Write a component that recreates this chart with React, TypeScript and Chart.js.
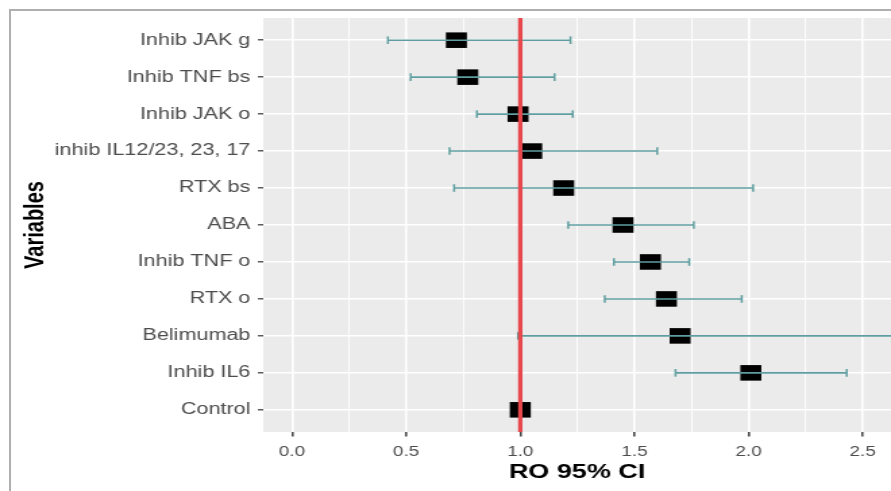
import React, { useEffect, useRef } from "react";
import { Chart, registerables } from "chart.js";

Chart.register(...registerables);

const variables = [
  "Inhib JAK g",
  "Inhib TNF bs",
  "Inhib JAK o",
  "inhib IL12/23, 23, 17",
  "RTX bs",
  "ABA",
  "Inhib TNF o",
  "RTX o",
  "Belimumab",
  "Inhib IL6",
  "Control",
];
const oddsRatio = [0.72, 0.77, 0.99, 1.05, 1.19, 1.45, 1.57, 1.64, 1.70, 2.01, 1.0];
const ciLower = [0.42, 0.52, 0.81, 0.69, 0.71, 1.21, 1.41, 1.37, 0.99, 1.68, 1.0];
const ciUpper = [1.22, 1.15, 1.23, 1.6, 2.02, 1.76, 1.74, 1.97, 2.9, 2.43, 1.0];
const referenceValue = 1;
const xTickValues = [0, 0.25, 0.5, 0.75, 1, 1.25, 1.5, 1.75, 2, 2.25, 2.5];

const STRETCH = 1.35;
const W = 660;
const H = 491;
const FONT = "'Liberation Sans', Arial, Helvetica, sans-serif";
const TEAL = "#5F9EA0";

const panelBg = {
  id: "panelBg",
  beforeDraw(chart: any) {
    const { ctx, chartArea } = chart;
    ctx.save();
    ctx.fillStyle = "#ffffff";
    ctx.fillRect(0, 0, chart.width, chart.height);
    ctx.fillStyle = "#EBEBEB";
    ctx.fillRect(chartArea.left, chartArea.top, chartArea.right - chartArea.left, chartArea.bottom - chartArea.top);
    ctx.restore();
  },
};

const isMajor = (v: number) => Math.abs(v * 2 - Math.round(v * 2)) < 1e-6;

export default function App() {
  const ref = useRef<HTMLCanvasElement | null>(null);

  useEffect(() => {
    if (!ref.current) return;
    const errorSets = variables.map((_, i) => ({
      type: "scatter" as const,
      data: [
        { x: ciLower[i], y: i },
        { x: ciUpper[i], y: i },
      ],
      showLine: true,
      borderColor: TEAL,
      borderWidth: 1.6,
      pointStyle: "line",
      pointRotation: 90,
      pointRadius: 3.8,
      pointBorderColor: TEAL,
      pointBorderWidth: 1.5,
      pointBackgroundColor: TEAL,
      order: 2,
    }));
    const chart = new Chart(ref.current, {
      type: "scatter",
      data: {
        datasets: [
          {
            data: variables.map((_, i) => ({ x: oddsRatio[i], y: i })),
            pointStyle: "rect",
            pointRadius: 11,
            backgroundColor: "#000000",
            borderWidth: 0,
            order: 3,
          } as any,
          ...errorSets,
          {
            data: [
              { x: referenceValue, y: -0.6 },
              { x: referenceValue, y: variables.length - 0.4 },
            ],
            showLine: true,
            borderColor: "#E8474B",
            borderWidth: 3.2,
            pointRadius: 0,
            order: 1,
          },
        ],
      },
      options: {
        responsive: false,
        animation: false,
        devicePixelRatio: 1,
        layout: { autoPadding: false, padding: { top: 18, left: 0, right: 0, bottom: 0 } },
        plugins: { legend: { display: false }, tooltip: { enabled: false } },
        scales: {
          x: {
            type: "linear",
            min: -0.126,
            max: 2.624,
            afterBuildTicks: (axis: any) => {
              axis.ticks = xTickValues.map((v) => ({ value: v }));
            },
            afterFit: (scale: any) => {
              scale.height = 59;
              scale.paddingLeft = 0;
              scale.paddingRight = 0;
            },
            ticks: {
              autoSkip: false,
              maxRotation: 0,
              padding: 7,
              color: "#4D4D4D",
              font: { family: FONT, size: 14 },
              callback: (v: any) => (isMajor(Number(v)) ? Number(v).toFixed(1) : ""),
            },
            grid: {
              color: "#FFFFFF",
              lineWidth: (ctx: any) => (ctx.tick && isMajor(ctx.tick.value) ? 1.6 : 0.9),
              tickColor: (ctx: any) => (ctx.tick && isMajor(ctx.tick.value) ? "#333333" : "rgba(0,0,0,0)"),
              tickLength: 4.5,
              tickWidth: 1.4,
            },
            border: { display: false },
            title: {
              display: true,
              text: "RO 95% CI",
              color: "#000000",
              font: { family: FONT, size: 20, weight: "bold" },
              padding: { top: 0, bottom: 6.5 },
            },
          },
          y: {
            type: "linear",
            reverse: true,
            min: -0.6,
            max: variables.length - 0.4,
            afterBuildTicks: (axis: any) => {
              axis.ticks = variables.map((_, i) => ({ value: i }));
            },
            afterFit: (scale: any) => {
              scale.width = 195;
              scale.paddingTop = 0;
              scale.paddingBottom = 0;
            },
            ticks: {
              autoSkip: false,
              padding: 5.5,
              color: "#4D4D4D",
              font: { family: FONT, size: 16 },
              callback: (v: any) => variables[Number(v)] ?? "",
            },
            grid: {
              color: "#FFFFFF",
              lineWidth: 1.6,
              tickColor: "#333333",
              tickLength: 4,
              tickWidth: 1.2,
            },
            border: { display: false },
            title: {
              display: true,
              text: "Variables",
              color: "#000000",
              font: { family: FONT, size: 20, weight: "bold" },
              padding: { top: 14, bottom: 0 },
            },
          },
        },
      },
      plugins: [panelBg],
    } as any);
    return () => chart.destroy();
  }, []);

  return (
    <div style={{ position: "fixed", left: 0, top: 0, width: 891, height: 491, overflow: "hidden", background: "#fff" }}>
      <div
        style={{
          position: "absolute",
          left: 0,
          top: 0,
          width: W,
          height: H,
          transform: `scaleX(${STRETCH})`,
          transformOrigin: "0 0",
        }}
      >
        <canvas ref={ref} width={W} height={H} style={{ display: "block", width: W, height: H }} />
      </div>
      <div
        style={{
          position: "absolute",
          left: 9,
          top: 9,
          width: 1000,
          height: 1000,
          borderLeft: "2px solid #AFAFAF",
          borderTop: "2px solid #AFAFAF",
          pointerEvents: "none",
        }}
      />
    </div>
  );
}
